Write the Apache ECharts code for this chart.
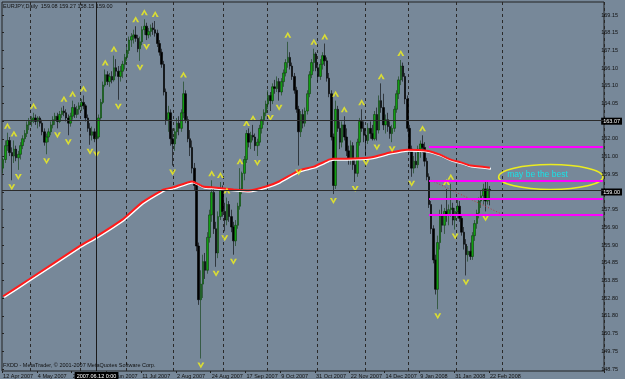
<!DOCTYPE html>
<html>
<head>
<meta charset="utf-8">
<script src="https://cdn.jsdelivr.net/npm/echarts@6/dist/echarts.min.js"></script>
<style>
html, body { margin: 0; padding: 0; background: #778899; }
#chart { width: 625px; height: 379px; }
</style>
</head>
<body>
<div id="chart"></div>
<script>
// EURJPY daily bars, [open, high, low, close], from 12 Apr 2007
var ohlc = [
  [160.3,160.9,160.0,160.8],[160.8,161.9,160.6,161.6],[161.6,162.35,161.3,161.9],[161.9,162.1,161.0,161.2],
  [161.2,161.5,159.6,161.0],[161.0,161.9,160.6,161.4],[161.4,161.6,160.7,160.9],[160.9,161.3,160.2,161.1],
  [161.1,161.8,160.8,161.6],[161.6,162.2,161.4,162.0],[162.0,162.5,161.8,162.3],[162.3,163.0,162.1,162.8],
  [162.8,163.2,162.5,163.0],[163.0,163.3,162.7,163.1],[163.1,163.5,162.9,163.2],[163.2,163.4,162.8,163.0],
  [163.0,163.3,162.6,163.2],[163.2,163.3,162.7,162.9],[162.9,163.1,162.2,162.4],[162.4,162.6,161.6,161.8],
  [161.8,162.3,161.1,162.1],[162.1,162.6,161.8,162.4],[162.4,163.0,162.2,162.8],[162.8,163.3,162.6,163.1],
  [163.1,163.5,162.8,163.3],[163.3,163.5,162.6,163.0],[163.0,163.6,162.9,163.4],[163.4,163.8,163.2,163.6],
  [163.6,163.9,163.3,163.5],[163.5,163.7,163.0,163.2],[163.2,163.4,162.2,162.9],[162.9,163.5,162.7,163.3],
  [163.3,164.2,163.1,163.8],[163.8,164.0,163.2,163.4],[163.4,163.9,163.2,163.7],[163.7,164.1,163.4,163.9],
  [163.9,164.3,163.6,164.1],[164.1,164.5,163.7,163.9],[163.9,164.0,163.0,163.2],[163.2,163.4,162.4,162.6],
  [162.6,162.9,161.65,162.2],[162.2,162.7,161.9,162.4],[162.4,162.6,161.8,162.0],[162.0,162.3,161.5,162.1],
  [162.1,163.4,162.0,163.2],[163.2,164.3,163.1,164.1],[164.1,165.3,164.0,165.1],[165.1,166.0,165.0,165.7],
  [165.7,165.9,165.1,165.3],[165.3,165.8,165.0,165.6],[165.6,165.9,165.2,165.4],[165.4,166.8,165.3,166.1],
  [166.1,166.6,165.6,165.9],[165.9,166.2,164.25,165.6],[165.6,166.2,165.3,165.9],[165.9,166.5,165.5,166.3],
  [166.3,166.9,166.0,166.7],[166.7,167.3,166.5,167.1],[167.1,167.9,166.9,167.7],[167.7,168.1,167.3,167.9],
  [167.9,168.3,167.5,168.0],[168.0,168.5,167.6,167.8],[167.8,168.0,167.0,167.2],[167.2,167.9,166.5,167.6],
  [167.6,168.5,167.4,168.3],[168.3,168.9,168.0,168.5],[168.5,168.7,167.7,168.0],[168.0,168.4,167.8,168.2],
  [168.2,168.6,167.9,168.4],[168.4,168.7,168.0,168.3],[168.3,168.8,167.9,168.1],[168.1,168.3,167.3,167.5],
  [167.5,167.7,166.8,167.0],[167.0,167.2,166.1,166.3],[166.3,166.5,164.5,164.7],[164.7,164.9,162.8,163.1],
  [163.1,163.9,162.4,163.5],[163.5,163.7,161.6,162.0],[162.0,162.6,160.45,161.7],[161.7,162.6,161.3,162.4],
  [162.4,163.2,162.0,162.9],[162.9,163.3,162.2,162.6],[162.6,163.7,162.4,163.5],[163.5,165.3,163.2,164.6],
  [164.6,164.8,162.9,163.1],[163.1,163.3,161.8,162.0],[162.0,162.5,161.0,161.5],[161.5,161.9,160.0,160.3],
  [160.3,160.6,159.0,159.3],[159.3,159.5,155.5,155.8],[155.8,156.0,152.4,152.7],[152.7,154.4,149.3,153.6],
  [153.6,155.3,152.8,154.9],[154.9,155.4,153.9,154.4],[154.4,156.6,154.2,156.3],[156.3,157.9,156.0,157.6],
  [157.6,159.6,157.2,158.9],[158.9,159.1,156.5,156.8],[156.8,157.2,154.6,155.4],[155.4,157.8,155.1,157.5],
  [157.5,159.5,157.3,159.1],[159.1,159.3,157.5,157.8],[157.8,158.3,156.65,157.3],[157.3,158.6,157.0,158.2],
  [158.2,158.4,157.2,157.5],[157.5,157.9,156.6,156.9],[156.9,157.2,155.3,156.1],[156.1,157.3,155.8,157.0],
  [157.0,158.3,156.8,158.1],[158.1,160.3,157.9,159.1],[159.1,160.1,158.8,160.0],[160.0,161.0,159.6,160.8],
  [160.8,162.5,160.6,162.3],[162.3,162.6,161.5,161.8],[161.8,162.4,161.4,162.2],[162.2,162.8,161.9,162.1],
  [162.1,162.3,161.3,161.6],[161.6,162.0,161.0,161.8],[161.8,162.8,161.6,162.6],[162.6,163.3,162.3,163.1],
  [163.1,163.7,162.8,163.5],[163.5,164.2,163.3,164.0],[164.0,164.8,163.7,164.5],[164.5,164.7,163.6,164.2],
  [164.2,165.2,164.0,165.0],[165.0,165.4,164.6,164.9],[164.9,165.6,164.7,165.3],[165.3,165.5,164.2,164.7],
  [164.7,165.5,164.5,165.3],[165.3,166.0,165.0,165.8],[165.8,166.6,165.6,166.4],[166.4,167.6,166.1,166.7],
  [166.7,167.0,166.0,166.2],[166.2,166.4,165.4,165.6],[165.6,165.8,164.6,164.8],[164.8,165.0,163.5,163.7],
  [163.7,163.9,160.45,162.4],[162.4,163.6,162.1,163.4],[163.4,163.7,162.6,162.9],[162.9,163.8,162.7,163.6],
  [163.6,164.8,163.4,164.6],[164.6,165.9,164.4,165.7],[165.7,166.6,165.5,166.4],[166.4,167.2,165.9,166.9],
  [166.9,167.0,165.9,166.1],[166.1,166.4,165.3,165.6],[165.6,166.6,165.4,166.3],[166.3,167.0,166.0,166.8],
  [166.8,167.5,166.2,166.5],[166.5,166.7,165.3,165.5],[165.5,165.8,164.4,164.6],[164.6,164.8,161.9,162.1],
  [162.1,162.3,158.8,159.3],[159.3,164.2,159.1,163.7],[163.7,163.9,162.4,162.6],[162.6,163.0,161.4,161.8],
  [161.8,163.0,161.5,162.8],[162.8,163.3,161.9,162.1],[162.1,162.6,161.0,161.3],[161.3,161.6,160.5,160.8],
  [160.8,161.9,160.5,161.6],[161.6,161.8,160.2,160.5],[160.5,160.8,159.5,160.0],[160.0,162.0,159.8,161.8],
  [161.8,163.2,161.6,163.0],[163.0,163.7,162.4,162.6],[162.6,163.0,161.8,162.2],[162.2,162.6,161.0,161.9],
  [161.9,162.9,161.7,162.6],[162.6,163.0,162.0,162.3],[162.3,162.8,161.9,162.0],[162.0,163.6,161.9,163.4],
  [163.4,163.8,161.9,162.5],[162.5,164.5,162.3,164.2],[164.2,165.2,163.5,163.8],[163.8,164.6,162.5,162.8],
  [162.8,163.4,162.3,163.1],[163.1,163.5,162.4,162.7],[162.7,163.0,162.0,162.3],[162.3,162.8,161.8,162.6],
  [162.6,163.9,162.4,163.7],[163.7,164.8,163.5,164.6],[164.6,165.6,164.3,165.4],[165.4,166.55,165.1,166.2],
  [166.2,166.4,165.3,165.6],[165.6,165.8,164.0,164.3],[164.3,164.5,162.4,162.6],[162.6,162.8,161.2,161.4],
  [161.4,161.6,159.8,160.3],[160.3,161.0,160.0,160.7],[160.7,161.2,160.3,160.5],[160.5,161.6,160.3,161.4],
  [161.4,161.9,160.9,161.7],[161.7,162.2,161.2,161.5],[161.5,161.8,160.4,160.7],[160.7,160.9,159.6,159.8],
  [159.8,160.0,158.0,158.2],[158.2,158.4,156.5,156.8],[156.8,157.0,154.8,155.0],[155.0,155.3,153.0,153.3],
  [153.3,156.4,152.15,156.0],[156.0,157.9,155.6,157.6],[157.6,158.2,156.6,157.0],[157.0,158.0,156.5,157.8],
  [157.8,159.1,157.2,157.6],[157.6,158.2,157.0,157.9],[157.9,159.4,157.5,158.0],[158.0,158.3,157.0,157.3],
  [157.3,158.0,156.75,157.8],[157.8,158.5,157.4,158.1],[158.1,158.4,157.2,157.4],[157.4,157.6,156.4,156.6],
  [156.6,156.9,155.6,155.9],[155.9,156.2,154.1,155.3],[155.3,155.8,154.9,155.5],[155.5,156.0,155.0,155.2],
  [155.2,156.6,155.0,156.4],[156.4,157.3,156.1,157.1],[157.1,157.9,156.8,157.7],[157.7,158.6,157.4,158.4],
  [158.4,159.0,158.0,158.7],[158.7,159.4,158.2,159.1],[159.1,159.6,157.8,158.4],[158.4,159.5,158.2,159.1],
  [159.08,159.27,158.15,159.00]
];

// moving average, [bar, price]
var maPoints = [
  [0,152.9],[12,153.88],[35,155.78],[43,156.36],[55,157.34],[64,158.32],[74,159.07],[78,159.18],
  [87,159.53],[92,159.24],[97,159.18],[106,159.07],[113,159.01],[121,159.24],[127,159.53],[136,160.16],
  [143,160.39],[150,160.79],[152,160.85],[158,160.85],[169,160.91],[178,161.2],[186,161.37],[195,161.31],
  [201,161.08],[206,160.79],[211,160.62],[215,160.45],[224,160.33]
];

// fractals, [bar, price]
var fractalUp = [
  [2,162.35],[5,161.9],[14,163.5],[28,163.9],[32,164.2],[37,164.5],[47,166.0],[51,166.8],[61,168.5],
  [65,168.9],[70,168.8],[83,165.3],[96,159.6],[100,159.5],[103,158.6],[109,160.3],[112,162.5],[115,162.8],
  [131,167.6],[143,167.2],[148,167.5],[153,164.2],[157,163.3],[165,163.7],[174,165.2],[183,166.55],
  [193,162.2],[204,159.1],[206,159.4]
];
var fractalDown = [
  [4,159.6],[7,160.2],[20,161.1],[25,162.6],[30,162.2],[40,161.65],[43,161.5],[53,164.25],[63,166.5],
  [66,167.7],[78,160.45],[91,149.3],[98,154.6],[102,156.65],[106,155.3],[117,161.0],[123,163.6],[127,164.2],
  [136,160.45],[152,158.8],[162,159.5],[167,161.0],[172,161.9],[179,161.8],[188,159.8],[200,152.15],
  [208,156.75],[213,154.1],[222,157.8]
];

var trendLine = [[197,159.6],[231,157.55]];
var magentaLevels = [161.56, 159.58, 158.56, 157.58];
var magentaFrom = 196;
var hLines = [163.07, 159.00];
var vLineDate = '2007-06-12';

var yTickLabels = ['148.75','149.75','150.75','151.80','152.80','153.85','154.85','155.90','156.90','157.95',
  '159.00','159.95','161.00','162.00','163.07','164.05','165.10','166.10','167.15','168.15','169.15'];
var highlighted = ['159.00','163.07'];

var note = 'may be the best';
var noteCentre = [252, 159.79];

// trading days (weekdays, no Christmas / New Year) incl. empty space on the right
var holidays = ['2007-12-25', '2008-01-01'];
var totalBars = 277;
var dates = [];
var d = new Date(Date.UTC(2007, 3, 12));
while (dates.length < totalBars) {
    var key = d.toISOString().slice(0, 10);
    var wd = d.getUTCDay();
    if (wd !== 0 && wd !== 6 && holidays.indexOf(key) < 0) dates.push(key);
    d.setUTCDate(d.getUTCDate() + 1);
}
var months = ['Jan','Feb','Mar','Apr','May','Jun','Jul','Aug','Sep','Oct','Nov','Dec'];
function fmtDate(s) {
    return parseInt(s.slice(8, 10), 10) + ' ' + months[parseInt(s.slice(5, 7), 10) - 1] + ' ' + s.slice(0, 4);
}

var font = 'Liberation Sans';
var chart = echarts.init(document.getElementById('chart'));

var markLines = [];
hLines.forEach(function (v) {
    markLines.push({ yAxis: v, lineStyle: { color: '#2b2b2b', width: 1, type: 'solid' }, label: { show: false } });
});
markLines.push({
    xAxis: vLineDate,
    lineStyle: { color: '#1a1a1a', width: 1, type: 'solid' },
    label: {
        show: true, position: 'start', distance: 1,
        formatter: vLineDate.replace(/-/g, '.') + ' 0:00',
        color: '#fff', backgroundColor: '#000', padding: [1, 2, 0, 2],
        fontSize: 5.5, fontFamily: font
    }
});
magentaLevels.forEach(function (v) {
    markLines.push([
        { coord: [magentaFrom, v], lineStyle: { color: '#ff00ff', width: 2, type: 'solid' } },
        { coord: [totalBars - 1, v] }
    ]);
});

var chevron = 'path://M0,10 L5,0 L10,10 L7,10 L5,5 L3,10 Z';

var option = {
    backgroundColor: '#778899',
    animation: false,
    grid: [
        { left: 2, right: 21, top: 2, bottom: 7, show: true, borderColor: '#222', borderWidth: 1 },
        { left: 2, right: 21, top: 15, bottom: 10 }
    ],
    xAxis: [{
        type: 'category',
        data: dates,
        boundaryGap: true,
        axisLine: { show: false },
        axisTick: {
            show: true, length: 2, lineStyle: { color: '#222' },
            interval: function (i) { return i % 16 === 0 && i < ohlc.length; }
        },
        axisLabel: {
            interval: function (i) { return i % 16 === 0 && i < ohlc.length; },
            formatter: fmtDate, align: 'left', margin: 2,
            fontSize: 5.5, fontFamily: font, color: '#111'
        },
        splitLine: {
            show: true,
            interval: function (i, v) {
                return i > 0 && v <= '2008-03-31' && v.slice(5, 7) !== dates[i - 1].slice(5, 7);
            },
            lineStyle: { color: '#2a2a2a', type: [3, 3], width: 1 }
        }
    }, {
        gridIndex: 1, type: 'value', show: false
    }],
    yAxis: [{
        type: 'value', min: 148.58, max: 169.90, show: false, splitLine: { show: false }
    }, {
        gridIndex: 1,
        type: 'category',
        data: yTickLabels,
        boundaryGap: false,
        position: 'right',
        axisLine: { show: false },
        axisTick: { show: true, length: 2, inside: false, lineStyle: { color: '#222' } },
        splitLine: { show: false },
        axisLabel: {
            interval: 0, margin: 3, fontSize: 5.5, fontFamily: font, color: '#111',
            formatter: function (v) { return highlighted.indexOf(v) >= 0 ? '{hl|' + v + '}' : v; },
            rich: {
                hl: { color: '#fff', backgroundColor: '#000', padding: [1, 2, 0, 2], fontSize: 5.5, fontFamily: font }
            }
        }
    }],
    series: [{
        name: 'EURJPY',
        type: 'candlestick',
        barWidth: 2,
        data: ohlc.map(function (r) { return [r[0], r[3], r[2], r[1]]; }),
        itemStyle: {
            color: '#10a010', color0: '#000000',
            borderColor: '#0b3d0b', borderColor0: '#000000', borderWidth: 0.6
        },
        markLine: { symbol: 'none', silent: true, animation: false, data: markLines }
    }, {
        name: 'MA',
        type: 'line',
        data: maPoints,
        showSymbol: false,
        smooth: 0.15,
        z: 3,
        lineStyle: { color: '#ff1a1a', width: 2, shadowColor: '#ffffff', shadowOffsetX: 1, shadowOffsetY: 1, shadowBlur: 0 }
    }, {
        name: 'trend',
        type: 'line',
        data: trendLine,
        showSymbol: false,
        lineStyle: { color: '#b83a3a', width: 1, type: [1, 2] }
    }, {
        name: 'fractal up',
        type: 'scatter',
        data: fractalUp,
        symbol: chevron,
        symbolSize: [7, 6],
        symbolOffset: [0, -7],
        z: 4,
        itemStyle: { color: '#f2f21a' }
    }, {
        name: 'fractal down',
        type: 'scatter',
        data: fractalDown,
        symbol: chevron,
        symbolRotate: 180,
        symbolSize: [7, 6],
        symbolOffset: [0, 7],
        z: 4,
        itemStyle: { color: '#f2f21a' }
    }]
};
chart.setOption(option);

// annotation objects placed through the chart's own scales
var a = chart.convertToPixel({ gridIndex: 0 }, [noteCentre[0] - 24, noteCentre[1] + 0.72]);
var b = chart.convertToPixel({ gridIndex: 0 }, [noteCentre[0] + 24, noteCentre[1] - 0.72]);
var t = chart.convertToPixel({ gridIndex: 0 }, [232, 159.93]);
chart.setOption({
    graphic: [{
        type: 'text', left: 3, top: 3,
        style: { text: 'EURJPY,Daily  159.08 159.27 158.15 159.00', fill: '#111', font: '5.5px "Liberation Sans"' }
    }, {
        type: 'text', left: 3, top: 362,
        style: { text: 'FXDD - MetaTrader, \u00a9 2001-2007 MetaQuotes Software Corp.', fill: '#111', font: '5.5px "Liberation Sans"' }
    }, {
        type: 'ellipse', silent: true,
        shape: { cx: (a[0] + b[0]) / 2, cy: (a[1] + b[1]) / 2, rx: (b[0] - a[0]) / 2, ry: (b[1] - a[1]) / 2 },
        style: { fill: null, stroke: '#ecec20', lineWidth: 1.5 }
    }, {
        type: 'text', x: t[0], y: t[1],
        style: { text: note, fill: '#19e3e8', font: '8.5px "Liberation Sans"', verticalAlign: 'middle' }
    }]
});
</script>
</body>
</html>
